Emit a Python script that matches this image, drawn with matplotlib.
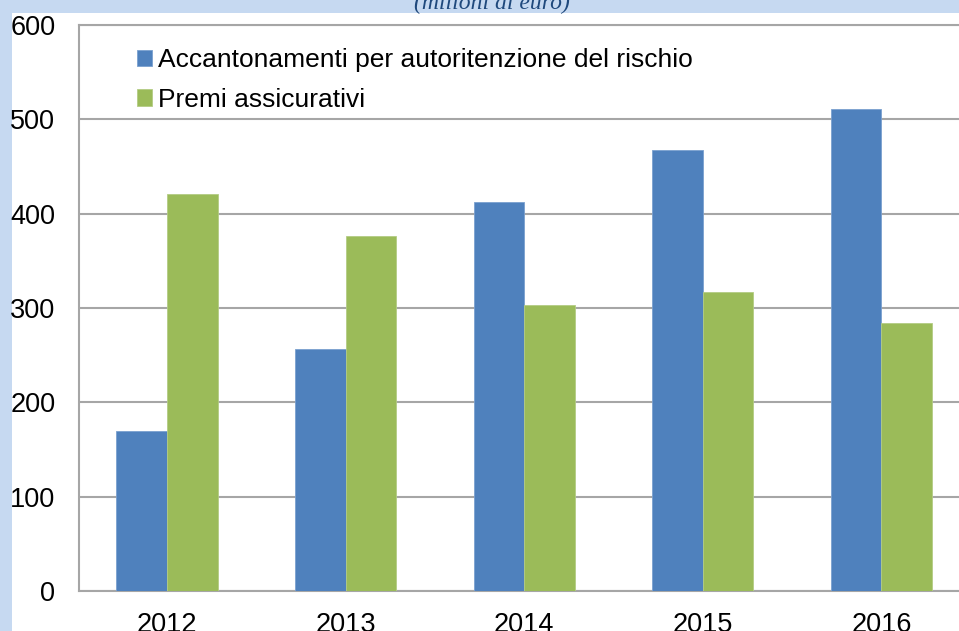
import numpy as np
import matplotlib
matplotlib.use("Agg")
import matplotlib.pyplot as plt
from matplotlib.patches import Rectangle

# Data
years = ["2012", "2013", "2014", "2015", "2016"]
accantonamenti = [170, 257, 412, 468, 511]
premi = [421, 376, 303, 317, 284]
series_labels = ["Accantonamenti per autoritenzione del rischio", "Premi assicurativi"]
y_ticks = [0, 100, 200, 300, 400, 500, 600]

plt.rcParams["font.family"] = ["Liberation Sans", "DejaVu Sans"]

W, H = 959, 631
fig = plt.figure(figsize=(W / 100, H / 100), dpi=100)
fig.patch.set_facecolor("#C6D9F1")

# white panel (light blue band only on the top and left edges)
fig.patches.append(
    Rectangle((12 / W, 0), 1 - 12 / W, (H - 13) / H, transform=fig.transFigure,
              facecolor="white", edgecolor="none", zorder=-10)
)

# cropped subtitle at the very top
fig.text(492 / W, 1 - 9 / H, "(milioni di euro)", ha="center", va="baseline",
         fontsize=17, style="italic", family="Liberation Serif", color="#1F497D")

ax = fig.add_axes([79 / W, (H - 591) / H, 1 - 79 / W, (591 - 25) / H])
ax.set_facecolor("white")

x = np.arange(len(years))
width = 0.283
ax.bar(x - width / 2, accantonamenti, width, color="#4F81BD", label=series_labels[0],
       edgecolor="#7AA0CF", linewidth=0.6, zorder=3)
ax.bar(x + width / 2, premi, width, color="#9BBB59", label=series_labels[1],
       edgecolor="#B4CC84", linewidth=0.6, zorder=3)

ax.set_ylim(0, 600)
ax.set_xlim(-0.4927, -0.4927 + 880 / 178.6)
ax.set_yticks(y_ticks)
ax.set_xticks(x)
ax.set_xticklabels(years)
ax.tick_params(axis="both", length=0, labelsize=19.5, colors="black")
ax.tick_params(axis="y", pad=17)
ax.tick_params(axis="x", pad=15)

ax.yaxis.grid(True, color="#A6A6A6", linewidth=1.5, zorder=0)
ax.set_axisbelow(True)
for side in ["left", "top", "bottom"]:
    ax.spines[side].set_color("#A6A6A6")
    ax.spines[side].set_linewidth(1.5)
ax.spines["right"].set_visible(False)

ax.legend(loc="upper left", bbox_to_anchor=(58 / 880, 1 - 23 / 566), frameon=False,
          fontsize=19, handlelength=0.56, handleheight=0.56, handletextpad=0.25,
          labelspacing=0.6, borderaxespad=0, borderpad=0)

fig.savefig("out.png", dpi=100, facecolor=fig.get_facecolor())
